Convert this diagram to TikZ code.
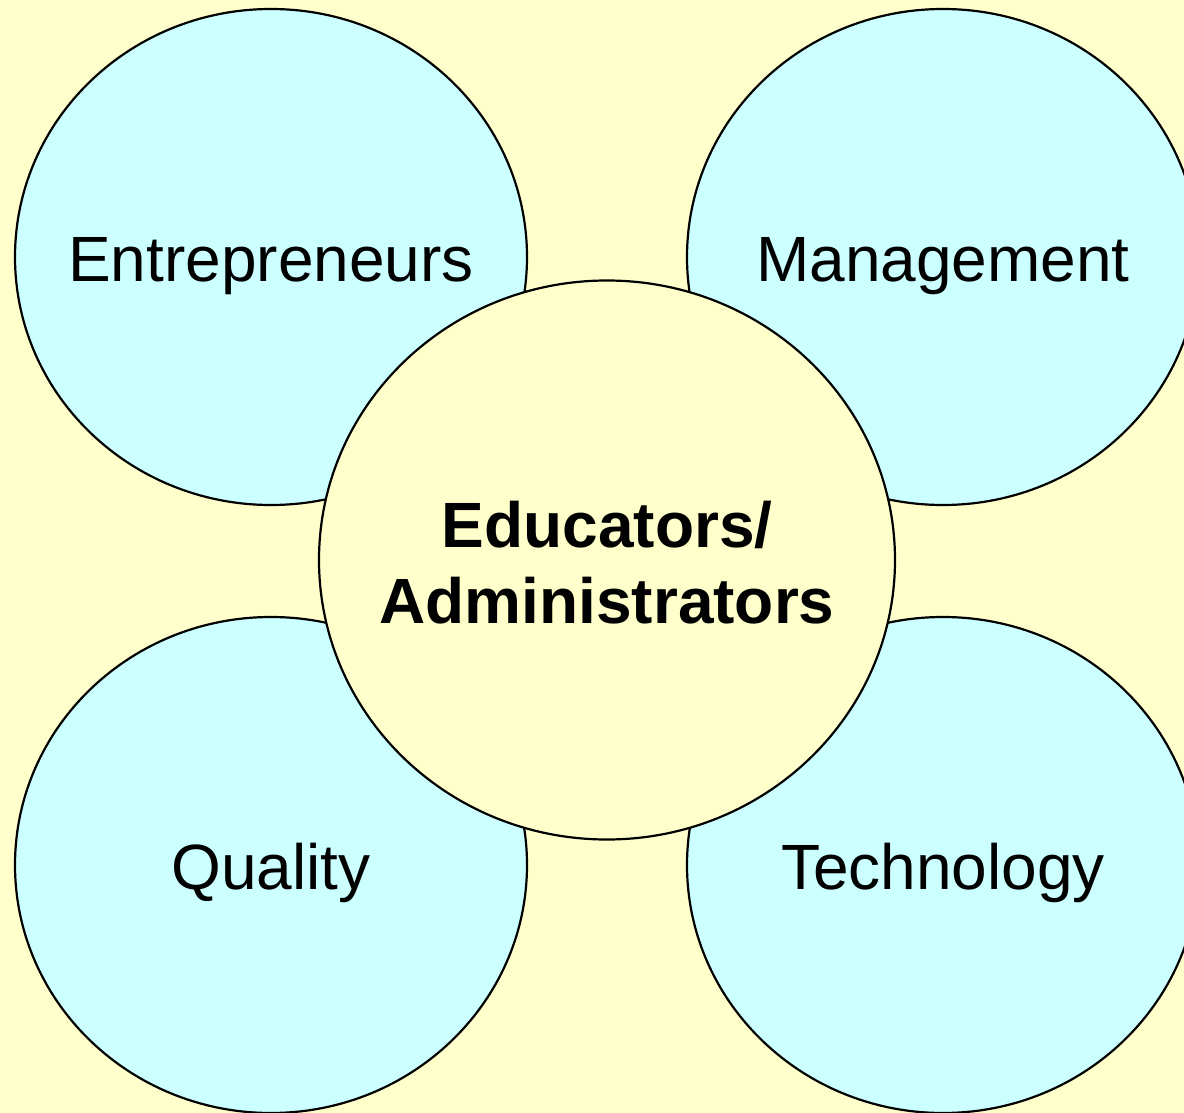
\documentclass[tikz,border=0pt]{standalone}
\usepackage{fontspec}
\setmainfont{Liberation Sans}
\usetikzlibrary{shapes.geometric}
\definecolor{bgyellow}{HTML}{FFFFCC}
\definecolor{lightcyan}{HTML}{CCFFFF}
\tikzset{
  outer/.style={ellipse, draw=black, line width=2.2pt, fill=lightcyan, minimum width=512pt, minimum height=496pt, inner sep=0pt},
  centre/.style={ellipse, draw=black, line width=2.2pt, fill=bgyellow, minimum width=576pt, minimum height=559pt, inner sep=0pt},
  lbl/.style={anchor=base, inner sep=0pt, font=\fontsize{64}{74}\selectfont},
  blbl/.style={anchor=base, inner sep=0pt, font=\fontsize{64}{74}\selectfont\bfseries}
}
\begin{document}
\begin{tikzpicture}[x=1pt,y=-1pt]
\fill[bgyellow] (0,0) rectangle (1184,1113);
\useasboundingbox (0,0) rectangle (1184,1113);
\node[outer] (ent) at (271,257) {};
\node[outer] (man) at (943,257) {};
\node[outer] (qua) at (271,865) {};
\node[outer] (tec) at (943,865) {};
\node[centre] (edu) at (607,560) {};
\node[lbl] (entl) at (271,281) {Entrepreneurs};
\node[lbl] (manl) at (943,281) {Management};
\node[lbl] (qual) at (271,889) {Quality};
\node[lbl] (tecl) at (943,889) {Technology};
\node[blbl] (edul1) at (607,547) {Educators/};
\node[blbl] (edul2) at (607,623) {Administrators};
\end{tikzpicture}
\end{document}
